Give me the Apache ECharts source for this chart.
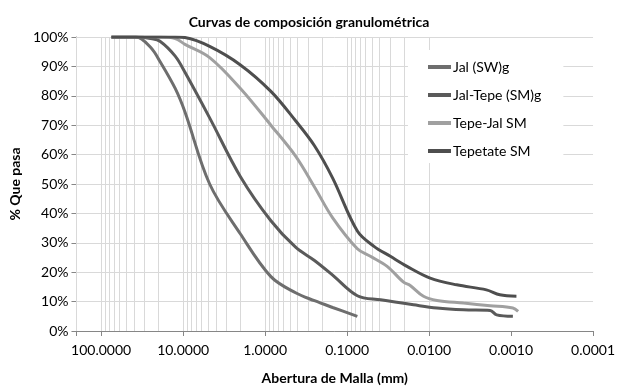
<!DOCTYPE html>
<html>
<head>
<meta charset="utf-8">
<script src="https://cdn.jsdelivr.net/npm/echarts@6/dist/echarts.min.js"></script>
<style>
html, body { margin: 0; padding: 0; background: #fff; }
#chart { width: 618px; height: 390px; }
</style>
</head>
<body>
<div id="chart"></div>
<script>
// tamices (mm)
var sieve = [75, 50, 37.5, 25, 19, 12.5, 9.5, 4.75, 2, 0.85, 0.425, 0.25, 0.15, 0.075];
// % que pasa por tamiz
var jalSW     = [100, 100, 100, 96.5, 91.5, 82.5, 74.5, 50, 33, 18.5, 13, 10.3, 8, 5];
var jalTepe   = [100, 100, 100, 99.5, 98.5, 93.5, 88, 72.5, 52.5, 37.5, 28.5, 24, 19, 12];
var tepeJal   = [100, 100, 100, 100, 100, 99.5, 97.5, 93, 82.5, 70, 59.5, 49, 38.5, 28];
var tepetate  = [100, 100, 100, 100, 100, 100, 99.8, 96.8, 90.5, 81.5, 71.5, 63, 52, 34];
// hidrómetro
var jalTepeHx  = [0.039, 0.0155, 0.008, 0.0038, 0.0018, 0.0015, 0.00095];
var jalTepeHy  = [10.6, 8.9, 7.8, 7.2, 7.0, 5.5, 5.0];
var tepeJalHx  = [0.052, 0.0325, 0.0205, 0.017, 0.0117, 0.008, 0.0038, 0.0018, 0.00095, 0.00082];
var tepeJalHy  = [25.4, 22, 16.6, 15.5, 11.8, 10.4, 9.5, 8.6, 7.8, 6.7];
var tepetateHx = [0.047, 0.0297, 0.0186, 0.0097, 0.0046, 0.002, 0.00137, 0.00086];
var tepetateHy = [28.8, 25.4, 22, 18, 15.7, 14, 12.3, 11.8];

var names = ['Jal (SW)g', 'Jal-Tepe (SM)g', 'Tepe-Jal SM', 'Tepetate SM'];
var colors = ['#6e6e6e', '#5a5a5a', '#a0a0a0', '#4e4e4e'];

function pairs(xs, ys) {
    var out = [];
    for (var i = 0; i < xs.length; i++) out.push([xs[i], ys[i]]);
    return out;
}

// lineas verticales de la escala log (1..9 x 10^e)
var vLines = [];
for (var e = -4; e <= 2; e++) {
    for (var m = 1; m <= 9; m++) {
        var v = m * Math.pow(10, e);
        if (v <= 200) vLines.push({xAxis: v});
    }
}

var font = 'Lato, "Liberation Sans", sans-serif';
var chart = echarts.init(document.getElementById('chart'));

function curve(i, d) {
    return {
        name: names[i],
        type: 'line',
        data: d,
        smooth: 0.35,
        symbol: 'none',
        z: 3,
        lineStyle: {width: 3, color: colors[i]},
        itemStyle: {color: colors[i]}
    };
}

var option = {
    animation: false,
    title: {
        text: 'Curvas de composición granulométrica',
        left: 'center',
        top: 10,
        textStyle: {fontFamily: font, fontSize: 14, fontWeight: 'bold', color: '#000'}
    },
    legend: {
        data: names,
        orient: 'vertical',
        left: 408,
        top: 50,
        z: 10,
        padding: [9, 22, 4, 20],
        backgroundColor: '#fff',
        icon: 'rect',
        itemWidth: 23,
        itemHeight: 4,
        itemGap: 12,
        textStyle: {fontFamily: font, fontSize: 14, lineHeight: 16, color: '#000', padding: [0, 0, 0, -3]}
    },
    grid: {left: 75, right: 24, top: 37, bottom: 59},
    xAxis: {
        type: 'log',
        logBase: 10,
        inverse: true,
        min: 0.0001,
        max: 200,
        name: 'Abertura de Malla (mm)',
        nameLocation: 'middle',
        nameGap: 40,
        nameTextStyle: {fontFamily: font, fontSize: 14, fontWeight: 'bold', color: '#000'},
        axisLine: {lineStyle: {color: '#868686'}},
        axisTick: {show: true, length: 5, lineStyle: {color: '#868686'}},
        splitLine: {show: false},
        axisLabel: {
            fontFamily: font, fontSize: 14, color: '#000', margin: 12,
            formatter: function (v) {
                var l = Math.log10(v);
                return Math.abs(l - Math.round(l)) < 1e-6 ? Math.pow(10, Math.round(l)).toFixed(4) : '';
            }
        }
    },
    yAxis: {
        type: 'value',
        min: 0,
        max: 100,
        interval: 10,
        name: '% Que pasa',
        nameLocation: 'middle',
        nameGap: 50,
        nameTextStyle: {fontFamily: font, fontSize: 14, fontWeight: 'bold', color: '#000'},
        axisLine: {show: true, lineStyle: {color: '#868686'}},
        axisTick: {show: true, length: 5, lineStyle: {color: '#868686'}},
        splitLine: {lineStyle: {color: '#d9d9d9'}},
        axisLabel: {fontFamily: font, fontSize: 14, color: '#000', margin: 8, formatter: '{value}%'}
    },
    series: [
        {
            name: 'grid',
            type: 'line',
            data: [],
            z: 1,
            markLine: {
                z: 1,
                silent: true,
                symbol: 'none',
                label: {show: false},
                lineStyle: {color: '#d9d9d9', width: 1, type: 'solid'},
                data: vLines
            }
        },
        curve(0, pairs(sieve, jalSW)),
        curve(1, pairs(sieve, jalTepe).concat(pairs(jalTepeHx, jalTepeHy))),
        curve(2, pairs(sieve, tepeJal).concat(pairs(tepeJalHx, tepeJalHy))),
        curve(3, pairs(sieve, tepetate).concat(pairs(tepetateHx, tepetateHy)))
    ]
};
chart.setOption(option);
</script>
</body>
</html>
